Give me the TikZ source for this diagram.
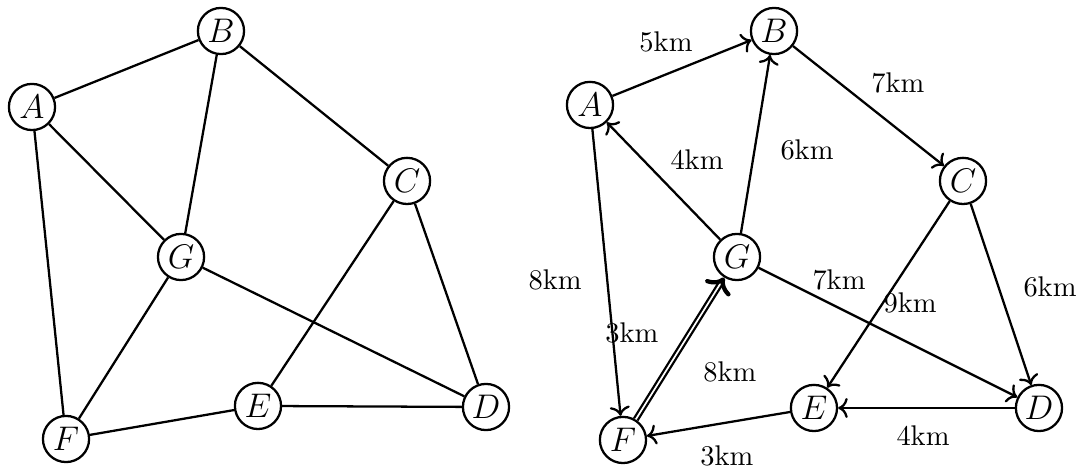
\documentclass[tikz,border=0pt]{standalone}
\usetikzlibrary{arrows.meta,decorations.markings}

\begin{document}
\begin{tikzpicture}[
  >=To,
  vtx/.style={draw, circle, thick, fill=white, font=\large, minimum size=0.57cm, inner sep=0.5pt},
  edge/.style={thick},
  dist/.style={inner sep=1pt},
  bigtip/.style={decoration={markings, mark=at position 1 with {\arrow[line width=1.5pt]{To}}}, postaction={decorate}},
]
\useasboundingbox (0,0) rectangle (13.309,5.827);
% undirected graph
\node[vtx] (a1) at (0.395,4.506) {$A$};
\node[vtx] (b1) at (2.728,5.444) {$B$};
\node[vtx] (c1) at (5.025,3.593) {$C$};
\node[vtx] (g1) at (2.235,2.654) {$G$};
\node[vtx] (e1) at (3.185,0.815) {$E$};
\node[vtx] (d1) at (6.000,0.802) {$D$};
\node[vtx] (f1) at (0.815,0.407) {$F$};
\draw[edge] (a1) -- (b1);
\draw[edge] (b1) -- (c1);
\draw[edge] (a1) -- (g1);
\draw[edge] (b1) -- (g1);
\draw[edge] (a1) -- (f1);
\draw[edge] (g1) -- (f1);
\draw[edge] (g1) -- (d1);
\draw[edge] (c1) -- (e1);
\draw[edge] (c1) -- (d1);
\draw[edge] (e1) -- (d1);
\draw[edge] (e1) -- (f1);
% directed graph with distances
\node[vtx] (a2) at (7.284,4.531) {$A$};
\node[vtx] (b2) at (9.556,5.444) {$B$};
\node[vtx] (c2) at (11.889,3.593) {$C$};
\node[vtx] (g2) at (9.099,2.654) {$G$};
\node[vtx] (e2) at (10.049,0.790) {$E$};
\node[vtx] (d2) at (12.827,0.790) {$D$};
\node[vtx] (f2) at (7.691,0.395) {$F$};
\draw[edge,->] (a2) -- (b2);
\draw[edge,->] (b2) -- (c2);
\draw[edge,->] (g2) -- (a2);
\draw[edge,->] (g2) -- (b2);
\draw[edge,->] (a2) -- (f2);
\draw[edge,double,shorten >=1.5pt] (f2) -- (g2);
\path[bigtip] (f2) -- (g2);
\draw[edge,->] (g2) -- (d2);
\draw[edge,->] (c2) -- (e2);
\draw[edge,->] (c2) -- (d2);
\draw[edge,->] (d2) -- (e2);
\draw[edge,->] (e2) -- (f2);
\node[dist] (l-ab) at (8.222,5.309) {5km};
\node[dist] (l-bc) at (11.086,4.802) {7km};
\node[dist] (l-gb) at (9.963,3.975) {6km};
\node[dist] (l-ga) at (8.605,3.852) {4km};
\node[dist] (l-af) at (6.852,2.370) {8km};
\node[dist] (l-fx) at (7.802,1.716) {3km};
\node[dist] (l-gd) at (10.358,2.370) {7km};
\node[dist] (l-ce) at (11.235,2.086) {9km};
\node[dist] (l-cd) at (12.963,2.284) {6km};
\node[dist] (l-fg) at (9.012,1.235) {8km};
\node[dist] (l-de) at (11.395,0.444) {4km};
\node[dist] (l-ef) at (8.975,0.198) {3km};
\end{tikzpicture}
\end{document}
